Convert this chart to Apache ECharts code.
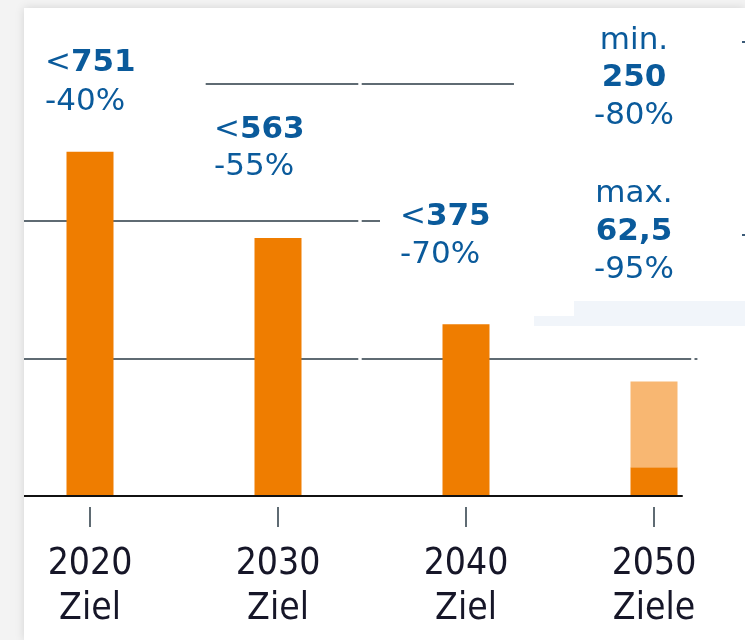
<!DOCTYPE html>
<html><head><meta charset="utf-8">
<script src="https://cdn.jsdelivr.net/npm/echarts@6/dist/echarts.min.js"></script>
<style>
html,body{margin:0;padding:0;background:#f3f3f3;width:745px;height:640px;overflow:hidden;}
#card{position:absolute;left:24px;top:8px;width:721px;height:632px;background:#fff;box-shadow:0 0 9px rgba(0,0,0,0.13);}
#chart{width:721px;height:632px;}
</style></head><body>
<div id="card"><div id="chart"></div></div>
<script>
// ---- data ----
const years = ['2020', '2030', '2040', '2050'];
const goalWords = ['Ziel', 'Ziel', 'Ziel', 'Ziele'];
const solidValues = [751, 563, 375, 62.5];      // upper limit (2020-2040), max. value 2050
const rangeTop = [null, null, null, 250];       // min. value 2050 (top of light range)
const reductions = ['-40%', '-55%', '-70%', '-95%'];
const rangeTopReduction = '-80%';
const yTicks = [0, 300, 600, 900];

// ---- styles ----
const BLUE = '#0a5a9b';
const GRID = '#5f6b73';
const FONT = '"DejaVu Sans", Verdana, sans-serif';
const CAT_FONT = '"DejaVu Sans Condensed", "Liberation Sans Narrow", "DejaVu Sans", sans-serif';
const FS = 31;
function makeRich(lh) {
  return {
    n: {fontFamily: FONT, fontSize: FS, color: BLUE, lineHeight: lh},
    b: {fontFamily: FONT, fontSize: FS, fontWeight: 'bold', color: BLUE, lineHeight: lh},
    m: {fontFamily: FONT, fontSize: FS, color: BLUE, lineHeight: 36},
    g: {fontFamily: FONT, fontSize: 10, lineHeight: 40}
  };
}
const fmt = v => String(v).replace('.', ',');
const labelBoxes = [
  {offset: [-75, -26], padding: [5, 70, 4, 30], bg: '#fff', lh: 39},
  {offset: [-64, -52], padding: [0, 0, 0, 0], bg: 'transparent', lh: 37.5},
  {offset: [-86, -48], padding: [4, 72, 2, 20], bg: '#fff', lh: 38.3}
];

const solidData = solidValues.map((v, i) => {
  if (i >= labelBoxes.length) return {value: v};
  const box = labelBoxes[i];
  return {
    value: v,
    label: {
      show: true, position: 'top', distance: 0, align: 'left', verticalAlign: 'bottom',
      offset: box.offset, padding: box.padding, backgroundColor: box.bg,
      formatter: '{n|<}{b|' + fmt(v) + '}\n{n|' + reductions[i] + '}',
      rich: makeRich(box.lh)
    }
  };
});
const lightData = rangeTop.map((v, i) => {
  if (v == null) return '-';
  return {
    value: v - solidValues[i],
    label: {
      show: true, position: 'top', distance: 0, align: 'center', verticalAlign: 'bottom',
      offset: [-20, -80.4], padding: [20, 80, 12, 80], backgroundColor: '#fff',
      formatter: '{m|min.}\n{b|' + fmt(v) + '}\n{n|' + rangeTopReduction + '}\n{g| }\n{n|max.}\n{b|' + fmt(solidValues[i]) + '}\n{n|' + reductions[i] + '}',
      rich: makeRich(38)
    }
  };
});

const chart = echarts.init(document.getElementById('chart'), null, {renderer: 'canvas'});
chart.setOption({
  animation: false,
  backgroundColor: '#fff',
  grid: {left: -28, right: -3, top: 75.5, bottom: 144, containLabel: false, outerBoundsMode: 'none'},
  xAxis: [
    {
      type: 'category', data: years, z: 3,
      axisLine: {show: true, lineStyle: {color: '#111', width: 2, type: [686, 200]}},
      axisTick: {show: false}, axisLabel: {show: false}, splitLine: {show: false}
    },
    {
      type: 'category', data: years, position: 'bottom', offset: 11,
      axisLine: {show: false},
      axisTick: {show: true, alignWithLabel: true, length: 20, lineStyle: {color: GRID, width: 2}},
      axisLabel: {
        margin: 35, fontFamily: CAT_FONT, fontSize: 37, lineHeight: 45, color: '#161628',
        formatter: (v, i) => v + '\n' + goalWords[i]
      },
      splitLine: {show: false}
    }
  ],
  yAxis: {
    type: 'value', min: yTicks[0], max: yTicks[yTicks.length - 1], interval: yTicks[1] - yTicks[0],
    axisLine: {show: false}, axisTick: {show: false}, axisLabel: {show: false},
    splitLine: {show: true, showMinLine: false,
      lineStyle: {color: GRID, width: 2, cap: 'butt', type: [362.3, 3.4, 329.5, 3.3, 2.9, 200]}}
  },
  series: [
    {type: 'bar', stack: 's', barWidth: 47, xAxisIndex: 0, data: solidData,
     itemStyle: {color: '#ef7d00'}, label: {show: false}},
    {type: 'bar', stack: 's', barWidth: 47, xAxisIndex: 0, data: lightData,
     itemStyle: {color: '#f8b772'}, label: {show: false}}
  ],
  graphic: [
    {type: 'rect', left: 550, top: 292, shape: {width: 171, height: 16}, style: {fill: '#f1f5fa'}, z: 1},
    {type: 'rect', left: 510, top: 308, shape: {width: 211, height: 10}, style: {fill: '#f1f5fa'}, z: 1},
    {type: 'rect', left: 718, top: 33, shape: {width: 3, height: 2}, style: {fill: '#3b5a78'}, z: 100},
    {type: 'rect', left: 718, top: 226, shape: {width: 3, height: 2}, style: {fill: '#3b5a78'}, z: 100}
  ]
});
</script>
</body></html>
